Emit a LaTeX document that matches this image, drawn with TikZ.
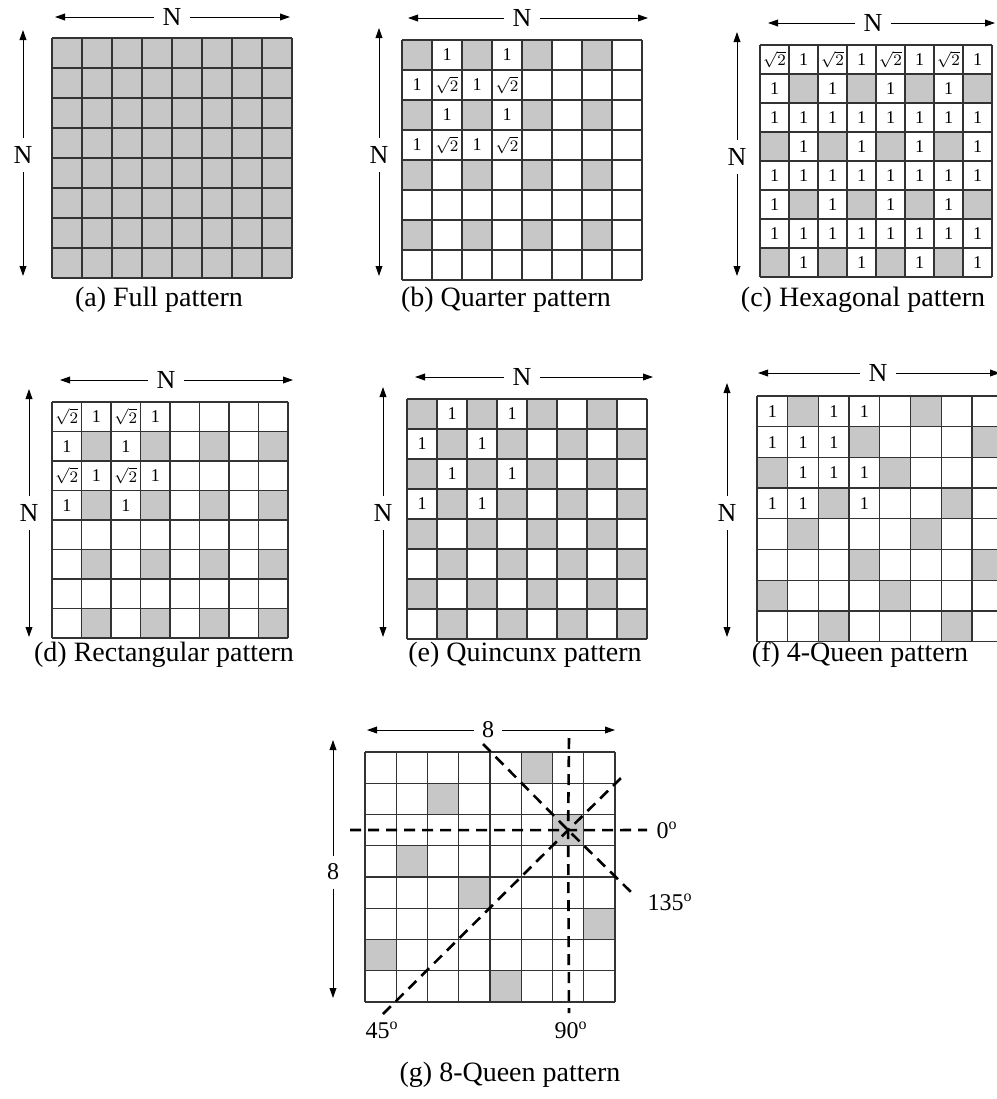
\documentclass[tikz,border=0pt]{standalone}
\usepackage{fontspec}
\setmainfont{Liberation Serif}
\usetikzlibrary{arrows.meta}

\begin{document}
\begin{tikzpicture}[
  x=0.5pt, y=-0.5pt,
  >={Triangle[length=5pt,width=3.4pt]},
  cellline/.style={draw=black!80, line width=0.65pt},
  cellfill/.style={fill=black!22},
  dimline/.style={->, line width=0.5pt},
  dimlabel/.style={font=\fontsize{13}{13}\selectfont, inner sep=4pt},
  num/.style={font=\fontsize{9}{9}\selectfont, inner sep=0pt},
  root/.style={font=\fontsize{8}{8}\selectfont, inner sep=0pt},
  caption/.style={font=\fontsize{14}{16}\selectfont},
  queenline/.style={dash pattern=on 5.5pt off 3.5pt, line width=1.3pt},
  angle/.style={font=\fontsize{12}{12}\selectfont, inner sep=1pt}
]
\clip (0,0) rectangle (997,1099);

% (a) full
\begin{scope}[shift={(52,38)}, scale=30]
  \fill[cellfill] (0,0) rectangle (8,8);
  \foreach \i in {0,...,8} {\draw[cellline] (\i,0) -- (\i,8); \draw[cellline] (0,\i) -- (8,\i);}
\end{scope}

% (b) quarter
\begin{scope}[shift={(402,40)}, scale=30]
  \foreach \c in {0,2,4,6} \foreach \r in {0,2,4,6} \fill[cellfill] (\c,\r) rectangle ++(1,1);
  \foreach \i in {0,...,8} {\draw[cellline] (\i,0) -- (\i,8); \draw[cellline] (0,\i) -- (8,\i);}
  \foreach \c/\r in {1/0, 3/0, 0/1, 2/1, 1/2, 3/2, 0/3, 2/3}
    \node[num] (b\c\r) at (\c+.5,\r+.5) {1};
  \foreach \c/\r in {1/1, 3/1, 1/3, 3/3}
    \node[root] (b\c\r) at (\c+.5,\r+.5) {$\sqrt{2}$};
\end{scope}

% (c) hexagonal
\begin{scope}[shift={(760,45)}, scale=29]
  \foreach \r in {1,5} \foreach \c in {1,3,5,7} \fill[cellfill] (\c,\r) rectangle ++(1,1);
  \foreach \r in {3,7} \foreach \c in {0,2,4,6} \fill[cellfill] (\c,\r) rectangle ++(1,1);
  \foreach \i in {0,...,8} {\draw[cellline] (\i,0) -- (\i,8); \draw[cellline] (0,\i) -- (8,\i);}
  \foreach \c in {0,2,4,6} {
    \node[root] (c\c0) at (\c+.5,.5) {$\sqrt{2}$};
    \node[num] (c\c0x) at (\c+1.5,.5) {1};
  }
  \foreach \r in {2,4,6} \foreach \c in {0,...,7} \node[num] (c\c\r) at (\c+.5,\r+.5) {1};
  \foreach \r in {1,5} \foreach \c in {0,2,4,6} \node[num] (c\c\r) at (\c+.5,\r+.5) {1};
  \foreach \r in {3,7} \foreach \c in {1,3,5,7} \node[num] (c\c\r) at (\c+.5,\r+.5) {1};
\end{scope}

% (d) rectangular
\begin{scope}[shift={(52,402)}, scale=29.5]
  \foreach \c in {1,3,5,7} \foreach \r in {1,3,5,7} \fill[cellfill] (\c,\r) rectangle ++(1,1);
  \foreach \i in {0,...,8} {\draw[cellline] (\i,0) -- (\i,8); \draw[cellline] (0,\i) -- (8,\i);}
  \foreach \r in {0,2} {
    \node[root] (d0\r) at (.5,\r+.5) {$\sqrt{2}$};
    \node[num] (d1\r) at (1.5,\r+.5) {1};
    \node[root] (d2\r) at (2.5,\r+.5) {$\sqrt{2}$};
    \node[num] (d3\r) at (3.5,\r+.5) {1};
  }
  \foreach \r in {1,3} \foreach \c in {0,2} \node[num] (d\c\r) at (\c+.5,\r+.5) {1};
\end{scope}

% (e) quincunx
\begin{scope}[shift={(407,399)}, scale=30]
  \foreach \c in {0,...,7} \foreach \r in {0,...,7} {
    \pgfmathparse{int(mod(\c+\r,2))}
    \ifnum\pgfmathresult=0 \fill[cellfill] (\c,\r) rectangle ++(1,1); \fi
  }
  \foreach \i in {0,...,8} {\draw[cellline] (\i,0) -- (\i,8); \draw[cellline] (0,\i) -- (8,\i);}
  \foreach \c/\r in {1/0, 3/0, 0/1, 2/1, 1/2, 3/2, 0/3, 2/3}
    \node[num] (e\c\r) at (\c+.5,\r+.5) {1};
\end{scope}

% (f) 4-queen
\begin{scope}[shift={(757,396)}, scale=30.7]
  \foreach \c/\r in {1/0, 5/0, 3/1, 7/1, 0/2, 4/2, 2/3, 6/3,
                     1/4, 5/4, 3/5, 7/5, 0/6, 4/6, 2/7, 6/7}
    \fill[cellfill] (\c,\r) rectangle ++(1,1);
  \foreach \i in {0,...,8} {\draw[cellline] (\i,0) -- (\i,8); \draw[cellline] (0,\i) -- (8,\i);}
  \foreach \c/\r in {0/0, 2/0, 3/0, 0/1, 1/1, 2/1, 1/2, 2/2, 3/2, 0/3, 1/3, 3/3}
    \node[num] (f\c\r) at (\c+.5,\r+.5) {1};
\end{scope}

% (g) 8-queen
\begin{scope}[shift={(365,752)}, scale=31.25]
  \foreach \c/\r in {5/0, 2/1, 6/2, 1/3, 3/4, 7/5, 0/6, 4/7}
    \fill[cellfill] (\c,\r) rectangle ++(1,1);
  \foreach \i in {0,...,8} {\draw[cellline] (\i,0) -- (\i,8); \draw[cellline] (0,\i) -- (8,\i);}
  \coordinate (Q) at (6.5,2.5);
\end{scope}

% size arrows
\foreach \p/\tx/\ty/\lx/\rx/\vx/\vy/\vt/\vb in {
    a/172/17/55/290/23/155/30/276,
    b/522/18/408/648/379/155/28/276,
    c/873/23/768/995/737/157/32/276,
    d/166/380/60/293/29/513/389/637,
    e/522/377/415/653/383/513/387/637,
    f/878/373/758/1000/727/513/383/637}
{
  \node[dimlabel] (\p-top) at (\tx,\ty) {N};
  \coordinate (\p-l) at (\lx,\ty);
  \coordinate (\p-r) at (\rx,\ty);
  \draw[dimline] (\p-top) -- (\p-l);
  \draw[dimline] (\p-top) -- (\p-r);
  \node[dimlabel] (\p-side) at (\vx,\vy) {N};
  \coordinate (\p-t) at (\vx,\vt);
  \coordinate (\p-b) at (\vx,\vb);
  \draw[dimline] (\p-side) -- (\p-t);
  \draw[dimline] (\p-side) -- (\p-b);
}
\node[dimlabel, font=\fontsize{12}{12}\selectfont] (g-top) at (488,730) {8};
\coordinate (g-l) at (367,730);
\coordinate (g-r) at (615,730);
\draw[dimline] (g-top) -- (g-l);
\draw[dimline] (g-top) -- (g-r);
\node[dimlabel, font=\fontsize{12}{12}\selectfont] (g-side) at (333,872) {8};
\coordinate (g-t) at (333,740);
\coordinate (g-b) at (333,998);
\draw[dimline] (g-side) -- (g-t);
\draw[dimline] (g-side) -- (g-b);

% queen directions
\coordinate (h0) at (350,830);
\coordinate (h1) at (647,830);
\coordinate (v0) at (569,738);
\coordinate (v1) at (569,1013);
\coordinate (s0) at (383,1014);
\coordinate (s1) at (623,776);
\coordinate (t0) at (483,744);
\coordinate (t1) at (632,893);
\draw[queenline] (h0) -- (Q) -- (h1);
\draw[queenline] (v0) -- (Q) -- (v1);
\draw[queenline] (s0) -- (Q) -- (s1);
\draw[queenline] (t0) -- (Q) -- (t1);
\node[angle] (ang0) at (667,830) {0\textsuperscript{o}};
\node[angle] (ang135) at (670,902) {135\textsuperscript{o}};
\node[angle] (ang45) at (382,1030) {45\textsuperscript{o}};
\node[angle] (ang90) at (571,1030) {90\textsuperscript{o}};

% captions
\foreach \p/\cx/\cy/\t in {
    a/159/300/{(a) Full pattern},
    b/506/300/{(b) Quarter pattern},
    c/863/300/{(c) Hexagonal pattern},
    d/164/655/{(d) Rectangular pattern},
    e/525/655/{(e) Quincunx pattern},
    f/860/655/{(f) 4-Queen pattern},
    g/510/1075/{(g) 8-Queen pattern}}
  \node[caption] (cap-\p) at (\cx,\cy) {\t};
\end{tikzpicture}
\end{document}
